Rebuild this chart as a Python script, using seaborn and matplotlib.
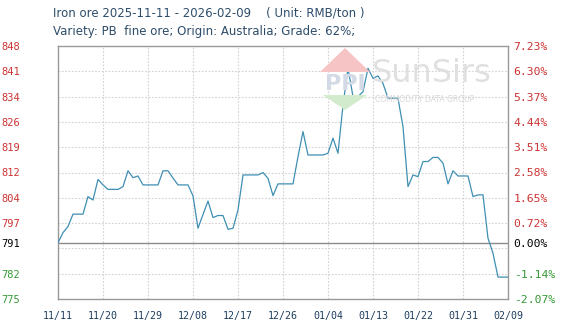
import numpy as np
import pandas as pd
import matplotlib
matplotlib.use("Agg")
import matplotlib.pyplot as plt
from matplotlib.patches import Polygon
import seaborn as sns

# ---------------- data ----------------
start_date = "2025-11-11"
end_date = "2026-02-09"
base_price = 791
prices = [
    791.0, 793.9, 795.7, 799.3, 799.3, 799.3, 804.4, 803.4, 809.4, 807.8,
    806.5, 806.5, 806.5, 807.3, 811.9, 809.9, 810.4, 807.8, 807.8, 807.8,
    807.8, 811.9, 811.9, 809.8, 807.8, 807.8, 807.8, 804.6, 795.2, 799.2,
    803.1, 798.3, 798.9, 798.9, 794.9, 795.2, 800.5, 810.7, 810.7, 810.7,
    810.7, 811.4, 809.7, 804.7, 808.1, 808.1, 808.1, 808.1, 816.0, 823.3,
    816.5, 816.5, 816.5, 816.5, 817.0, 821.4, 817.0, 831.0, 841.7, 833.5,
    833.5, 834.9, 841.7, 838.8, 839.5, 837.3, 833.0, 833.0, 833.0, 824.7,
    807.3, 810.7, 810.2, 814.6, 814.6, 815.8, 815.8, 814.1, 808.1, 811.9,
    810.4, 810.4, 810.4, 804.4, 804.9, 804.9, 792.3, 787.9, 781.0, 781.0,
    781.0,
]
pct_labels = ["7.23%", "6.30%", "5.37%", "4.44%", "3.51%", "2.58%", "1.65%",
              "0.72%", "", "-1.14%", "-2.07%"]
pct_values = [7.23, 6.30, 5.37, 4.44, 3.51, 2.58, 1.65, 0.72, -0.21, -1.14, -2.07]
price_labels = ["848", "841", "834", "826", "819", "812", "804", "797", "", "782", "775"]
xtick_labels = ["11/11", "11/20", "11/29", "12/08", "12/17", "12/26",
                "01/04", "01/13", "01/22", "01/31", "02/09"]

dates = pd.date_range(start_date, end_date, freq="D")
df = pd.DataFrame({"date": dates, "price": prices})

# ---------------- style ----------------
sns.set_style("white")
plt.rcParams["font.family"] = ["DejaVu Sans"]

W, H = 571, 335
fig = plt.figure(figsize=(W / 100, H / 100), dpi=100)
L, R, T, B = 58, 508, 46, 299
ax = fig.add_axes([L / W, 1 - B / H, (R - L) / W, (B - T) / H])

red = "#cc3333"
green = "#339933"
grid_c = "#d2d2d2"
line_c = "#3f8fb3"

tick_pos = [base_price * (1 + p / 100) for p in pct_values]
ymax, ymin = tick_pos[0], tick_pos[-1]


def fx(x):
    return x / W


def fy(y):
    return 1 - y / H


# watermark (behind the line)
fig.patches.append(Polygon([(fx(320), fy(72)), (fx(370), fy(72)), (fx(345), fy(48))],
                           closed=True, transform=fig.transFigure,
                           facecolor="#f6c4c4", edgecolor="none", zorder=0))
fig.patches.append(Polygon([(fx(323), fy(95)), (fx(367), fy(95)), (fx(345), fy(110))],
                           closed=True, transform=fig.transFigure,
                           facecolor="#d2ebcd", edgecolor="none", zorder=0))
fig.text(fx(345), fy(84), "PPI", ha="center", va="center", fontsize=16,
         fontweight="bold", color="#d3dae6", zorder=0)
fig.text(fx(372), fy(74), "SunSirs", ha="left", va="center", fontsize=23,
         color="#e0e0e0", zorder=0)
fig.text(fx(375), fy(100), "COMMODITY DATA GROUP", ha="left", va="center",
         fontsize=5.5, color="#d8d8d8", zorder=0)
ax.set_facecolor("none")

sns.lineplot(data=df, x="date", y="price", ax=ax, color=line_c, linewidth=0.9, zorder=3)

ax.set_ylim(ymin, ymax)
ax.set_xlim(dates[0], dates[-1])

# grid
for yv in tick_pos[1:-1]:
    ax.axhline(yv, color=grid_c, linewidth=0.8, linestyle=(0, (1.5, 1.5)), zorder=1)
xt = dates[::9]
for xv in xt[1:-1]:
    ax.axvline(xv, color=grid_c, linewidth=0.8, linestyle=(0, (1.5, 1.5)), zorder=1)
ax.axhline(base_price, color="#8a8a8a", linewidth=1.0, zorder=2)

for s in ax.spines.values():
    s.set_color("#999999")
    s.set_linewidth(1.0)

# left ticks
left_pos = tick_pos[:8] + [base_price] + tick_pos[9:]
left_lab = price_labels[:8] + [str(base_price)] + price_labels[9:]
left_col = [red] * 8 + ["black"] + [green] * 2
ax.set_yticks(left_pos)
ax.set_yticklabels(left_lab, family="DejaVu Sans Mono", fontsize=7.5)
for t, c in zip(ax.get_yticklabels(), left_col):
    t.set_color(c)
ax.tick_params(axis="y", length=0, pad=27)

ax.set_xticks(xt)
ax.set_xticklabels(xtick_labels, family="DejaVu Sans Mono", fontsize=7.2, color="#1f3f5f")
ax.tick_params(axis="x", length=0, pad=9)
ax.set_xlabel("")
ax.set_ylabel("")

# right axis
ax2 = ax.twinx()
ax2.set_ylim(ymin, ymax)
right_lab = pct_labels[:8] + ["0.00%"] + pct_labels[9:]
ax2.set_yticks(left_pos)
ax2.set_yticklabels(right_lab, family="DejaVu Sans Mono", fontsize=8.2)
for t, c in zip(ax2.get_yticklabels(), left_col):
    t.set_color(c)
ax2.tick_params(axis="y", length=0, pad=4)
for s in ax2.spines.values():
    s.set_visible(False)

# titles
title_c = "#2e4d6b"
fig.text(fx(53), fy(13), "Iron ore 2025-11-11 - 2026-02-09    ( Unit: RMB/ton )",
         ha="left", va="center", fontsize=8.5, color=title_c)
fig.text(fx(53), fy(32), "Variety: PB  fine ore; Origin: Australia; Grade: 62%;",
         ha="left", va="center", fontsize=8.5, color=title_c)

fig.savefig("out.png", dpi=100)
